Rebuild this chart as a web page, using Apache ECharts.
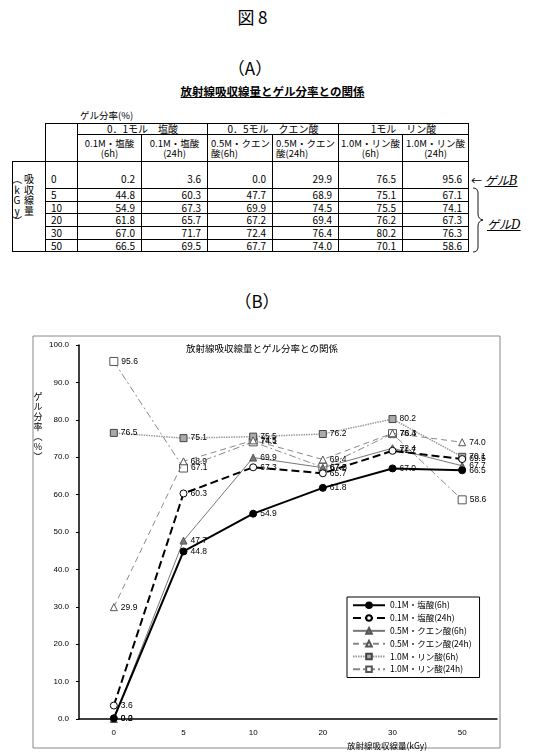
<!DOCTYPE html>
<html><head><meta charset="utf-8">
<script src="https://cdn.jsdelivr.net/npm/echarts@6/dist/echarts.min.js"></script>
<style>
body{margin:0;width:535px;height:756px;background:#fff;position:relative;overflow:hidden;font-family:"Noto Sans CJK JP",sans-serif;color:#000}
.abs{position:absolute;white-space:nowrap}
#tbl{position:absolute;left:12px;top:123px;border-collapse:collapse;table-layout:fixed;font-size:10px;width:456px}
#tbl td{border:1px solid #000;padding:0;line-height:10px;overflow:hidden}
#tbl td.nb{border:none}
#tbl td.grp{text-align:center;font-size:10px}
#tbl td.sub{text-align:center;font-size:9.5px;vertical-align:middle}
#tbl td.subl{text-align:left;font-size:9.5px;padding-left:3px}
#tbl td.val{text-align:right;padding-right:6px}
#tbl td.dose{text-align:left;padding-left:5px}
#tbl tr.r0 td.val,#tbl tr.r0 td.dose{vertical-align:bottom;padding-bottom:4px}
.vcol{position:absolute;text-align:center;font-size:10px;line-height:10.5px;width:12px}
.note{font-family:"DejaVu Serif","Noto Sans CJK JP",serif;font-style:italic;font-size:12px;text-decoration:underline}
</style></head>
<body>
<div class="abs" style="left:0;width:505px;top:4px;text-align:center;font-size:17px;font-family:'Noto Sans CJK JP'">図&thinsp;8</div>
<div class="abs" style="left:0;width:500px;top:55px;text-align:center;font-size:17px">（A）</div>
<div class="abs" style="left:0;width:545px;top:83px;text-align:center;font-size:11.5px;font-weight:bold;text-decoration:underline">放射線吸収線量とゲル分率との関係</div>
<div class="abs" style="left:80px;top:108px;font-size:9.5px">ゲル分率(%)</div>
<table id="tbl"></table>
<div class="vcol" style="left:11px;top:174px">︵<br>k<br>G<br>y<br>︶</div>
<div class="vcol" style="left:23px;top:174px">吸<br>収<br>線<br>量</div>
<div class="abs" style="left:471px;top:171px;font-size:12px"><span style="font-size:11px">←</span> <span class="note">ゲルB</span></div>
<svg class="abs" style="left:470px;top:186px" width="16" height="68"><path d="M3,2 Q8,2 8,7 L8,28 Q8,33 13,34 Q8,35 8,40 L8,61 Q8,66 3,66" fill="none" stroke="#000" stroke-width="0.9"/></svg>
<div class="abs note" style="left:487px;top:215px">ゲルD</div>
<div class="abs" style="left:0;width:514px;top:288px;text-align:center;font-size:17px">（B）</div>
<div id="chart" class="abs" style="left:0;top:320px;width:535px;height:436px"></div>
<script>
// ---- data ----
const doses = ['0', '5', '10', '20', '30', '50'];
const groupHeaders = ['0．1モル　塩酸', '0．5モル　クエン酸', '1モル　リン酸'];
const seriesNames = ['0.1M・塩酸(6h)', '0.1M・塩酸(24h)', '0.5M・クエン酸(6h)', '0.5M・クエン酸(24h)', '1.0M・リン酸(6h)', '1.0M・リン酸(24h)'];
const tableHeaders = [['0.1M・塩酸', '(6h)'], ['0.1M・塩酸', '(24h)'], ['0.5M・クエン', '酸(6h)'], ['0.5M・クエン', '酸(24h)'], ['1.0M・リン酸', '(6h)'], ['1.0M・リン酸', '(24h)']];
const hcl6 = [0.2, 44.8, 54.9, 61.8, 67.0, 66.5];
const hcl24 = [3.6, 60.3, 67.3, 65.7, 71.7, 69.5];
const cit6 = [0.0, 47.7, 69.9, 67.2, 72.4, 67.7];
const cit24 = [29.9, 68.9, 74.5, 69.4, 76.4, 74.0];
const pho6 = [76.5, 75.1, 75.5, 76.2, 80.2, 70.1];
const pho24 = [95.6, 67.1, 74.1, 67.3, 76.3, 58.6];
const yTicks = [0, 10, 20, 30, 40, 50, 60, 70, 80, 90, 100];
const allSeries = [hcl6, hcl24, cit6, cit24, pho6, pho24];

// ---- table ----
(function () {
  const colW = [33, 32, 64, 66, 65, 66, 64, 66];
  let h = '<colgroup>' + colW.map(w => `<col style="width:${w}px">`).join('') + '</colgroup>';
  h += '<tr style="height:11px"><td class="nb"></td><td rowspan="2"></td>' +
    groupHeaders.map(g => `<td class="grp" colspan="2">${g}</td>`).join('') + '</tr>';
  h += '<tr style="height:27px"><td class="nb"></td>' +
    tableHeaders.map((t, i) => `<td class="${(i === 2 || i === 3) ? 'subl' : 'sub'}">${t[0]}<br>${t[1]}</td>`).join('') + '</tr>';
  doses.forEach((d, r) => {
    h += `<tr class="r${r}" style="height:${r === 0 ? 27 : 12.7}px">`;
    if (r === 0) h += '<td rowspan="6"></td>';
    h += `<td class="dose">${d}</td>`;
    allSeries.forEach(s => { h += `<td class="val">${s[r].toFixed(1)}</td>`; });
    h += '</tr>';
  });
  document.getElementById('tbl').innerHTML = h;
})();

// ---- chart ----
const chart = echarts.init(document.getElementById('chart'), null, { renderer: 'canvas' });
const FONT = '"Liberation Sans","Noto Sans CJK JP",sans-serif';
function mk(name, data, o) {
  return {
    name, type: 'line', data, symbol: o.symbol, symbolSize: o.size || 7, showSymbol: true, z: o.z || 2,
    lineStyle: { color: o.lc, width: o.w, type: o.dash },
    itemStyle: { color: o.fill, borderColor: o.bc, borderWidth: 1 },
    label: { show: true, position: 'right', distance: 3, fontSize: 8.5, color: '#000', fontFamily: FONT,
      formatter: p => p.value.toFixed(1) },
    emphasis: { disabled: true }
  };
}
chart.setOption({
  animation: false,
  graphic: [
    { type: 'rect', shape: { x: 33, y: 16, width: 467, height: 412 }, style: { fill: 'none', stroke: '#888', lineWidth: 1 }, silent: true },
    { type: 'text', style: { text: '放射線吸収線量とゲル分率との関係', x: 262, y: 28, textAlign: 'center', textVerticalAlign: 'middle', fontSize: 9.5, fill: '#000', fontFamily: '"Noto Sans CJK JP"' } },
    { type: 'text', style: { text: 'ゲ\nル\n分\n率\n︵\n%\n︶', x: 38, y: 72, textAlign: 'center', fontSize: 9, lineHeight: 10, fill: '#000', fontFamily: '"Noto Sans CJK JP"' } },
    { type: 'text', style: { text: '放射線吸収線量(kGy)', x: 387, y: 426, textAlign: 'center', textVerticalAlign: 'middle', fontSize: 8.5, fill: '#000', fontFamily: '"Noto Sans CJK JP"' } }
  ],
  grid: { left: 79, right: 38, top: 25, bottom: 37, containLabel: false },
  legend: {
    orient: 'vertical', left: 347, top: 277, itemWidth: 32, itemHeight: 7, itemGap: 4.3,
    padding: [4, 8, 4, 5], borderColor: '#000', borderWidth: 1, backgroundColor: '#fff',
    textStyle: { fontSize: 8.5, color: '#000', fontFamily: '"Noto Sans CJK JP"' },
    data: seriesNames
  },
  xAxis: {
    type: 'category', data: doses, boundaryGap: true,
    axisLine: { lineStyle: { color: '#000', width: 1.5 } },
    axisTick: { inside: true, length: 3, lineStyle: { color: '#000' } },
    axisLabel: { fontSize: 8, color: '#000', margin: 10, fontFamily: FONT }
  },
  yAxis: {
    type: 'value', min: yTicks[0], max: yTicks[yTicks.length - 1], interval: 10,
    splitLine: { show: false },
    axisLine: { show: true, lineStyle: { color: '#000', width: 1.5 } },
    axisTick: { show: true, length: 3, lineStyle: { color: '#000' } },
    axisLabel: { fontSize: 8, color: '#000', margin: 10, fontFamily: FONT, formatter: v => v.toFixed(1) }
  },
  series: [
    mk(seriesNames[0], hcl6, { symbol: 'circle', lc: '#000', w: 2, dash: 'solid', fill: '#000', bc: '#000', z: 6 }),
    mk(seriesNames[1], hcl24, { symbol: 'circle', lc: '#000', w: 2, dash: [8, 4], fill: '#fff', bc: '#000', z: 5 }),
    mk(seriesNames[2], cit6, { symbol: 'triangle', lc: '#777', w: 1, dash: 'solid', fill: '#777', bc: '#555', z: 4 }),
    mk(seriesNames[3], cit24, { symbol: 'triangle', lc: '#888', w: 1, dash: [6, 4], fill: '#fff', bc: '#555', z: 3 }),
    mk(seriesNames[4], pho6, { symbol: 'rect', lc: '#999', w: 1.5, dash: [1.5, 1], fill: '#aaa', bc: '#444', z: 2 }),
    mk(seriesNames[5], pho24, { symbol: 'rect', lc: '#888', w: 1, dash: [7, 3, 2, 3], fill: '#fff', bc: '#555', z: 1, size: 8 })
  ]
});
</script>
</body></html>
